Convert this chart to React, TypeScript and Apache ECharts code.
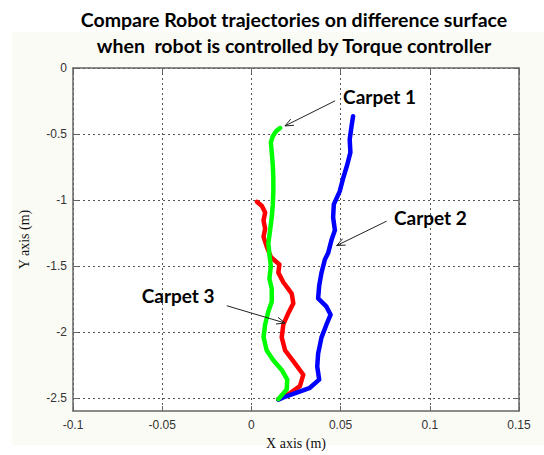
import React, { useEffect, useRef } from "react";
import * as echarts from "echarts";

// ---- Data ----
const xTickValues = [-0.1, -0.05, 0, 0.05, 0.1, 0.15];
const yTickValues = [0, -0.5, -1, -1.5, -2, -2.5];

const carpet1X = [0.0161, 0.0138, 0.012, 0.0109, 0.0114, 0.012, 0.0123, 0.0123, 0.012, 0.0114, 0.0105, 0.0095, 0.0101, 0.0109, 0.0101, 0.0114, 0.0114, 0.0095, 0.0077, 0.0068, 0.0086, 0.0123, 0.017, 0.0201, 0.0198, 0.0151];
const carpet1Y = [-0.455, -0.48, -0.517, -0.564, -0.638, -0.739, -0.837, -0.933, -1.034, -1.132, -1.228, -1.329, -1.413, -1.501, -1.597, -1.671, -1.772, -1.846, -1.944, -2.04, -2.141, -2.215, -2.289, -2.362, -2.436, -2.51];

const carpet2X = [0.057, 0.0561, 0.0551, 0.0555, 0.0536, 0.0514, 0.0495, 0.0462, 0.0458, 0.0468, 0.0449, 0.043, 0.0412, 0.0393, 0.038, 0.0374, 0.0421, 0.0444, 0.0421, 0.0393, 0.0374, 0.0369, 0.038, 0.0328, 0.0254, 0.0179, 0.0151];
const carpet2Y = [-0.365, -0.444, -0.542, -0.64, -0.739, -0.837, -0.935, -1.034, -1.132, -1.23, -1.304, -1.403, -1.452, -1.551, -1.649, -1.747, -1.809, -1.87, -1.944, -2.042, -2.165, -2.263, -2.362, -2.424, -2.461, -2.497, -2.514];

const carpet3X = [0.0031, 0.0059, 0.0077, 0.0068, 0.0077, 0.0068, 0.0086, 0.011, 0.0157, 0.0151, 0.0179, 0.0226, 0.0235, 0.0207, 0.0179, 0.017, 0.0189, 0.0244, 0.0291, 0.0272, 0.0207, 0.0151];
const carpet3Y = [-1.014, -1.046, -1.095, -1.156, -1.218, -1.28, -1.354, -1.435, -1.489, -1.551, -1.624, -1.71, -1.784, -1.858, -1.944, -2.042, -2.141, -2.239, -2.325, -2.411, -2.473, -2.51];

const titleLines = [
  "Compare Robot trajectories on difference surface",
  "when  robot is controlled by Torque controller",
];
const annotationLabels = ["Carpet 1", "Carpet 2", "Carpet 3"];
// annotation anchors in data coordinates: [label, arrow start, arrow end]
const annotationLabelAt = [[0.0514, -0.2145], [0.0799, -1.137], [-0.0615, -1.721]];
const arrowFrom = [[0.0469, -0.249], [0.0758, -1.161], [-0.0138, -1.802]];
const arrowTo = [[0.0188, -0.439], [0.0478, -1.346], [0.0188, -1.933]];

const pair = (xs: number[], ys: number[]) => xs.map((x, i) => [x, ys[i]]);

export default function App() {
  const ref = useRef<HTMLDivElement>(null);

  useEffect(() => {
    document.body.style.margin = "0";
    const el = ref.current;
    if (!el) return;
    const chart = echarts.init(el, null, { renderer: "svg" });

    const gridLine = { show: true, lineStyle: { color: "#555", type: [2, 3] as any, width: 1 } };
    const tickLabel = { color: "#333", fontFamily: "Liberation Sans", fontSize: 12 };
    const nameStyle = { color: "#111", fontFamily: "Liberation Serif", fontSize: 14 };
    const axisLine = { show: true, onZero: false, lineStyle: { color: "#666", width: 1.5 } };

    const lineSeries = (name: string, color: string, data: number[][]) => ({
      name,
      type: "line",
      data,
      showSymbol: false,
      symbol: "none",
      lineStyle: { color, width: 4.5, join: "round", cap: "round" },
      itemStyle: { color },
      smooth: false,
    });

    chart.setOption({
      animation: false,
      backgroundColor: "#ffffff",
      grid: { left: 73, right: 25, top: 68, bottom: 35.5, show: true, backgroundColor: "#ffffff", borderWidth: 0 },
      xAxis: [
        {
          type: "value",
          min: -0.1,
          max: 0.15,
          interval: 0.05,
          position: "bottom",
          axisLine,
          axisTick: { show: true, inside: true, length: 5, lineStyle: { color: "#666" } },
          axisLabel: { ...tickLabel, margin: 8 },
          splitLine: gridLine,
          name: "X axis (m)",
          nameLocation: "middle",
          nameGap: 25,
          nameTextStyle: nameStyle,
        },
        {
          type: "value",
          min: -0.1,
          max: 0.15,
          interval: 0.05,
          position: "top",
          axisLine,
          axisTick: { show: true, inside: true, length: 5, lineStyle: { color: "#666" } },
          axisLabel: { show: false },
          splitLine: { show: false },
        },
      ],
      yAxis: [
        {
          type: "value",
          min: -2.6,
          max: 0,
          position: "left",
          axisLine,
          axisTick: { show: true, inside: true, length: 5, customValues: yTickValues, lineStyle: { color: "#666" } },
          axisLabel: { ...tickLabel, margin: 6, customValues: yTickValues },
          splitLine: gridLine,
          name: "Y axis (m)",
          nameLocation: "middle",
          nameGap: 42,
          nameRotate: 90,
          nameTextStyle: nameStyle,
        },
        {
          type: "value",
          min: -2.6,
          max: 0,
          position: "right",
          axisLine,
          axisTick: { show: true, inside: true, length: 5, customValues: yTickValues, lineStyle: { color: "#666" } },
          axisLabel: { show: false, customValues: yTickValues },
          splitLine: { show: false },
        },
      ],
      series: [
        lineSeries("Carpet 3", "#ff0000", pair(carpet3X, carpet3Y)),
        lineSeries("Carpet 2", "#0000ff", pair(carpet2X, carpet2Y)),
        lineSeries("Carpet 1", "#00ff00", pair(carpet1X, carpet1Y)),
      ],
    });

    const graphics: any[] = [
      {
        type: "rect",
        z: -10,
        silent: true,
        shape: { x: 12, y: 32, width: 532, height: 413 },
        style: { fill: "#fbfbf5" },
      },
    ];
    titleLines.forEach((t, i) => {
      graphics.push({
        type: "text",
        x: 294,
        y: 19 + i * 26,
        style: {
          text: t,
          fill: "#000",
          font: "bold 19.5px Lato",
          textAlign: "center",
          textVerticalAlign: "middle",
        },
      });
    });
    annotationLabels.forEach((label, i) => {
      const lp = chart.convertToPixel({ seriesIndex: 0 }, annotationLabelAt[i]) as number[];
      const p0 = chart.convertToPixel({ seriesIndex: 0 }, arrowFrom[i]) as number[];
      const p1 = chart.convertToPixel({ seriesIndex: 0 }, arrowTo[i]) as number[];
      graphics.push({
        type: "text",
        x: lp[0],
        y: lp[1],
        z: 10,
        style: { text: label, fill: "#000", font: "bold 19px Lato", textAlign: "left", textVerticalAlign: "middle" },
      });
      const ang = Math.atan2(p1[1] - p0[1], p1[0] - p0[0]);
      const headLen = 9;
      const spread = 0.4;
      const h1 = [p1[0] - headLen * Math.cos(ang - spread), p1[1] - headLen * Math.sin(ang - spread)];
      const h2 = [p1[0] - headLen * Math.cos(ang + spread), p1[1] - headLen * Math.sin(ang + spread)];
      graphics.push({
        type: "line",
        z: 10,
        shape: { x1: p0[0], y1: p0[1], x2: p1[0], y2: p1[1] },
        style: { stroke: "#222", lineWidth: 1 },
      });
      graphics.push({
        type: "polyline",
        z: 10,
        shape: { points: [h1, p1, h2] },
        style: { stroke: "#222", lineWidth: 1, fill: null },
      });
    });
    chart.setOption({ graphic: graphics });

    return () => chart.dispose();
  }, []);

  return <div ref={ref} style={{ width: 544, height: 455 }} />;
}
